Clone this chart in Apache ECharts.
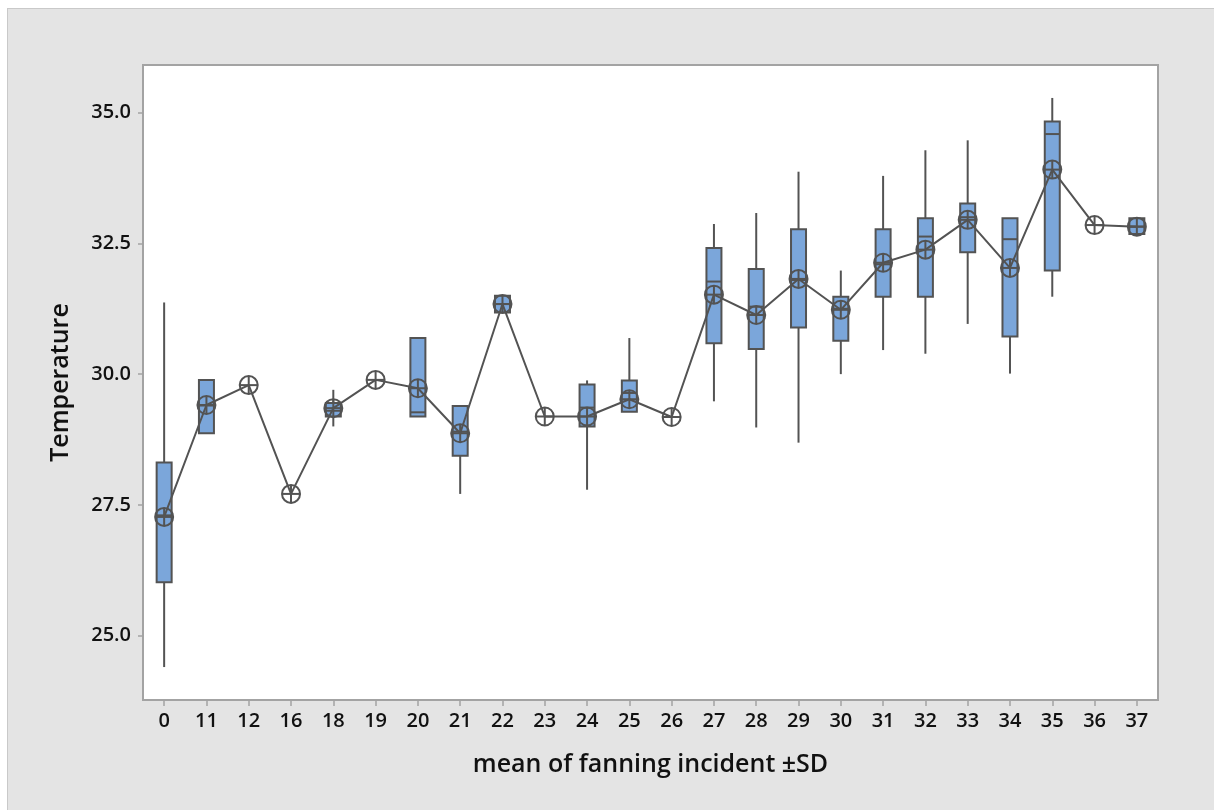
<!DOCTYPE html>
<html>
<head>
<meta charset="utf-8">
<script src="https://cdn.jsdelivr.net/npm/echarts@6/dist/echarts.min.js"></script>
<style>
  html, body { margin: 0; padding: 0; background: #ffffff; }
  #frame {
    position: absolute; left: 7px; top: 8px;
    width: 1206px; height: 801px;
    background: #e4e4e4;
    border-top: 1px solid #c9c9c9; border-left: 1px solid #c9c9c9;
  }
  #chart { width: 1206px; height: 801px; }
</style>
</head>
<body>
<div id="frame"><div id="chart"></div></div>
<script>
// Fanning incident groups on the x axis
const categories = ['0','11','12','16','18','19','20','21','22','23','24','25',
                    '26','27','28','29','30','31','32','33','34','35','36','37'];

// Mean temperature of each group (connected line with circled-plus markers)
const means = [27.27, 29.41, 29.79, 27.71, 29.35, 29.89, 29.73, 28.87, 31.34, 29.19, 29.19, 29.52,
               29.18, 31.52, 31.13, 31.82, 31.23, 32.13, 32.38, 32.95, 32.03, 33.91, 32.85, 32.82];

// Box statistics per group: [min, Q1, median, Q3, max]; null = single reading
const boxStats = [
  [24.40, 26.02, 27.30, 28.31, 31.37],   // 0
  [28.87, 28.87, 29.40, 29.89, 29.89],   // 11
  null,                                  // 12
  null,                                  // 16
  [29.00, 29.19, 29.30, 29.45, 29.70],   // 18
  null,                                  // 19
  [29.19, 29.19, 29.27, 30.69, 30.69],   // 20
  [27.71, 28.44, 28.90, 29.39, 29.39],   // 21
  [31.18, 31.18, 31.34, 31.50, 31.50],   // 22
  null,                                  // 23
  [27.79, 29.00, 29.36, 29.80, 29.88],   // 24
  [29.28, 29.28, 29.64, 29.88, 30.69],   // 25
  null,                                  // 26
  [29.48, 30.59, 31.77, 32.41, 32.87],   // 27
  [28.98, 30.48, 31.29, 32.01, 33.08],   // 28
  [28.69, 30.89, 31.80, 32.77, 33.87],   // 29
  [30.00, 30.64, 31.25, 31.48, 31.98],   // 30
  [30.46, 31.48, 32.10, 32.77, 33.79],   // 31
  [30.39, 31.48, 32.63, 32.98, 34.28],   // 32
  [30.96, 32.33, 33.00, 33.26, 34.47],   // 33
  [30.01, 30.72, 32.58, 32.98, 32.98],   // 34
  [31.48, 31.98, 34.59, 34.83, 35.28],   // 35
  null,                                  // 36
  [32.68, 32.68, 32.82, 32.98, 32.98]    // 37
];

const yTicks = [25, 27.5, 30, 32.5, 35];

const BOX_FILL = '#7ba6da';
const INK = '#535353';

const boxData = [];
boxStats.forEach((s, i) => { if (s) boxData.push([i].concat(s)); });
const meanData = means.map((m, i) => [i, m]);

const chart = echarts.init(document.getElementById('chart'), null, { renderer: 'canvas' });

const axisFont = { fontFamily: 'Open Sans', fontSize: 20, fontWeight: 600, color: '#111111' };
const nameFont = { fontFamily: 'Open Sans', fontSize: 25, fontWeight: 600, color: '#111111' };

chart.setOption({
  backgroundColor: 'transparent',
  animation: false,
  grid: {
    left: 135, top: 56, right: 56, bottom: 110,
    show: true, backgroundColor: '#ffffff', borderColor: '#a3a3a3', borderWidth: 2
  },
  xAxis: {
    type: 'category',
    data: categories,
    boundaryGap: true,
    name: 'mean of fanning incident \u00b1SD',
    nameLocation: 'middle',
    nameGap: 52,
    nameTextStyle: nameFont,
    axisLine: { show: false },
    axisTick: { show: true, alignWithLabel: true, length: 6, lineStyle: { color: '#a3a3a3', width: 1.5 } },
    axisLabel: Object.assign({ margin: 11, interval: 0 }, axisFont),
    splitLine: { show: false }
  },
  yAxis: {
    type: 'value',
    min: 23.77, max: 35.91,
    name: 'Temperature',
    nameLocation: 'middle',
    nameGap: 70,
    nameRotate: 90,
    nameTextStyle: nameFont,
    axisLine: { show: false },
    axisTick: { show: true, length: 5, customValues: yTicks, lineStyle: { color: '#a3a3a3', width: 1.5 } },
    axisLabel: Object.assign({ margin: 12, customValues: yTicks,
      formatter: v => Number(v).toFixed(1) }, axisFont),
    splitLine: { show: false }
  },
  series: [
    {
      // Boxes with whiskers (no end caps)
      type: 'custom',
      data: boxData,
      encode: { x: 0, y: [1, 2, 3, 4, 5] },
      z: 2,
      renderItem: function (params, api) {
        const i = api.value(0);
        const lo = api.coord([i, api.value(1)]);
        const q1 = api.coord([i, api.value(2)]);
        const md = api.coord([i, api.value(3)]);
        const q3 = api.coord([i, api.value(4)]);
        const hi = api.coord([i, api.value(5)]);
        const half = 7.5;
        const x = lo[0];
        const stroke = { stroke: INK, lineWidth: 2 };
        const kids = [];
        if (hi[1] < q3[1] - 0.5) {
          kids.push({ type: 'line', shape: { x1: x, y1: hi[1], x2: x, y2: q3[1] }, style: stroke });
        }
        if (lo[1] > q1[1] + 0.5) {
          kids.push({ type: 'line', shape: { x1: x, y1: q1[1], x2: x, y2: lo[1] }, style: stroke });
        }
        kids.push({
          type: 'rect',
          shape: { x: x - half, y: q3[1], width: half * 2, height: Math.max(q1[1] - q3[1], 1) },
          style: { fill: BOX_FILL, stroke: INK, lineWidth: 2 }
        });
        kids.push({ type: 'line', shape: { x1: x - half, y1: md[1], x2: x + half, y2: md[1] }, style: stroke });
        return { type: 'group', children: kids };
      }
    },
    {
      // Connect line through the group means
      type: 'line',
      data: means,
      symbol: 'none',
      z: 3,
      lineStyle: { color: INK, width: 2 }
    },
    {
      // Mean markers: open circle with a cross
      type: 'custom',
      data: meanData,
      encode: { x: 0, y: 1 },
      z: 4,
      renderItem: function (params, api) {
        const p = api.coord([api.value(0), api.value(1)]);
        const r = 9;
        const s = { stroke: INK, lineWidth: 2, fill: null };
        return {
          type: 'group',
          children: [
            { type: 'circle', shape: { cx: p[0], cy: p[1], r: r }, style: { stroke: INK, lineWidth: 2, fill: 'transparent' } },
            { type: 'line', shape: { x1: p[0] - r, y1: p[1], x2: p[0] + r, y2: p[1] }, style: s },
            { type: 'line', shape: { x1: p[0], y1: p[1] - r, x2: p[0], y2: p[1] + r }, style: s }
          ]
        };
      }
    }
  ]
});
</script>
</body>
</html>
